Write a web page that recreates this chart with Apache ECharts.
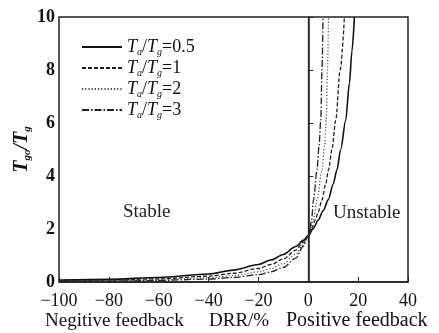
<!DOCTYPE html>
<html>
<head>
<meta charset="utf-8">
<script src="https://cdn.jsdelivr.net/npm/echarts@6/dist/echarts.min.js"></script>
<style>html,body{margin:0;padding:0;background:#fff}#c{width:439px;height:333px}</style>
</head>
<body>
<div id="c"></div>
<script>
// Ta/Tg ratios (legend)
const ratios = ['0.5', '1', '2', '3'];
// x-axis tick values
const xTicks = [-100, -80, -60, -40, -20, 0, 20, 40];
const yTicks = [0, 2, 4, 6, 8, 10];

// Ta/Tg = 0.5 (solid)
const drr05 = [-100, -80, -60, -40, -30, -20, -15, -10, -5, -2, 0, 2, 4, 6, 8, 10, 11.5, 13, 15, 16.5, 17.5, 18.5];
const tgo05 = [0.07, 0.1, 0.17, 0.3, 0.45, 0.66, 0.83, 1.04, 1.34, 1.57, 1.75, 2.02, 2.34, 2.7, 3.1, 3.7, 4.23, 5.0, 6.1, 7.5, 8.7, 10];
// Ta/Tg = 1 (dashed)
const drr1 = [-100, -80, -60, -40, -30, -20, -15, -10, -5, -2, 0, 1.5, 2.8, 4, 5.5, 7, 8.1, 9.5, 11, 12.8, 14.5];
const tgo1 = [0.04, 0.07, 0.12, 0.22, 0.33, 0.51, 0.66, 0.87, 1.2, 1.5, 1.75, 2.05, 2.34, 2.65, 3.1, 3.7, 4.23, 5.0, 6.1, 8.0, 10];
// Ta/Tg = 2 (dotted)
const drr2 = [-100, -80, -60, -40, -30, -20, -15, -10, -5, -2, 0, 1, 2, 3.5, 5.5, 6.5, 7.2, 7.7, 8.1];
const tgo2 = [0.03, 0.05, 0.08, 0.16, 0.24, 0.38, 0.5, 0.7, 1.05, 1.42, 1.75, 2.05, 2.34, 3.1, 4.23, 5.1, 6.1, 8.0, 10];
// Ta/Tg = 3 (dash-dot)
const drr3 = [-100, -80, -60, -40, -30, -20, -15, -10, -5, -2, 0, 0.7, 1.3, 2.1, 3.5, 4.3, 5, 5.5, 5.9];
const tgo3 = [0.02, 0.03, 0.06, 0.11, 0.17, 0.28, 0.38, 0.55, 0.9, 1.35, 1.75, 2.05, 2.34, 3.1, 4.23, 5.1, 6.1, 8.0, 10];

const xsAll = [drr05, drr1, drr2, drr3];
const ysAll = [tgo05, tgo1, tgo2, tgo3];
const dashes = ['solid', [4, 2], [1.2, 2], [7, 2, 1.5, 2]];
const widths = [1.6, 1.3, 1.2, 1.3];
const colors = ['#111', '#222', '#444', '#222'];

const serif = '"Liberation Serif","DejaVu Serif",serif';
const chart = echarts.init(document.getElementById('c'), null, {renderer: 'canvas'});

const series = ratios.map((r, i) => ({
  name: 'Ta/Tg=' + r,
  type: 'line',
  data: xsAll[i].map((x, k) => [x, ysAll[i][k]]),
  showSymbol: false,
  symbol: 'none',
  smooth: 0.3,
  smoothMonotone: 'x',
  lineStyle: {color: colors[i], width: widths[i], type: dashes[i]},
  itemStyle: {color: colors[i]},
  z: 3
}));
series[0].markLine = {
  silent: true, symbol: 'none', label: {show: false},
  lineStyle: {color: '#222', width: 1.3, type: 'solid'},
  data: [{xAxis: 0}]
};

const legRich = {
  i: {fontFamily: serif, fontStyle: 'italic', fontSize: 18, color: '#111', lineHeight: 20},
  s: {fontFamily: serif, fontStyle: 'italic', fontSize: 10, color: '#111', lineHeight: 14, verticalAlign: 'bottom'},
  n: {fontFamily: serif, fontSize: 18, color: '#111', lineHeight: 20}
};

chart.setOption({
  animation: false,
  grid: {left: 59, right: 31, top: 17, bottom: 51, outerBoundsMode: 'none', containLabel: false,
         show: true, borderColor: '#222', borderWidth: 1.5, backgroundColor: 'transparent'},
  legend: {
    orient: 'vertical', left: 76, top: 33, itemWidth: 40, itemHeight: 12, itemGap: 2,
    data: series.map(s => s.name),
    itemStyle: {opacity: 0},
    formatter: function (name) {
      const r = name.split('=')[1];
      return '{i|T}{s|a}{n|/}{i|T}{s|g}{n|=' + r + '}';
    },
    textStyle: {rich: legRich}
  },
  xAxis: {
    type: 'value', min: xTicks[0], max: xTicks[xTicks.length - 1], interval: 20,
    axisLine: {show: true, lineStyle: {color: '#222', width: 1.5}},
    axisTick: {show: true, inside: true, length: 5, lineStyle: {color: '#222', width: 1}},
    splitLine: {show: false},
    axisLabel: {
      fontFamily: serif, fontSize: 18, color: '#111', margin: 10,
      formatter: v => (v < 0 ? '\u2212' + (-v) : String(v))
    },
    name: '{a|Negitive feedback}{b|DRR/%}{c|Positive feedback}',
    nameLocation: 'middle', nameGap: 29, nameMoveOverlap: false,
    nameTextStyle: {
      padding: [0, 0, 0, 12],
      rich: {
        a: {fontFamily: serif, fontSize: 19, color: '#111', width: 164, align: 'left'},
        b: {fontFamily: serif, fontSize: 19, color: '#111', width: 77, align: 'left'},
        c: {fontFamily: serif, fontSize: 20, color: '#111', width: 148, align: 'left'}
      }
    }
  },
  yAxis: {
    type: 'value', min: yTicks[0], max: yTicks[yTicks.length - 1], interval: 2,
    axisLine: {show: true, lineStyle: {color: '#222', width: 1.5}},
    axisTick: {show: true, inside: true, length: 5, lineStyle: {color: '#222', width: 1}},
    splitLine: {show: false},
    axisLabel: {fontFamily: serif, fontSize: 18, fontWeight: 'bold', color: '#111', margin: 4},
    name: '{i|T}{s|go}{n|/}{i|T}{s|g}',
    nameLocation: 'middle', nameGap: 26, nameRotate: 90,
    nameMoveOverlap: false,
    nameTextStyle: {
      rich: {
        i: {fontFamily: serif, fontStyle: 'italic', fontWeight: 'bold', fontSize: 20, color: '#111', lineHeight: 22},
        s: {fontFamily: serif, fontStyle: 'italic', fontWeight: 'bold', fontSize: 11, color: '#111', lineHeight: 14, verticalAlign: 'bottom'},
        n: {fontFamily: serif, fontStyle: 'italic', fontWeight: 'bold', fontSize: 20, color: '#111', lineHeight: 22}
      }
    }
  },
  graphic: [
    {type: 'text', left: 123, top: 203, style: {text: 'Stable', font: '19px ' + serif, fill: '#222'}},
    {type: 'text', left: 333, top: 204, style: {text: 'Unstable', font: '19px ' + serif, fill: '#222'}}
  ],
  series: series
});
</script>
</body>
</html>
